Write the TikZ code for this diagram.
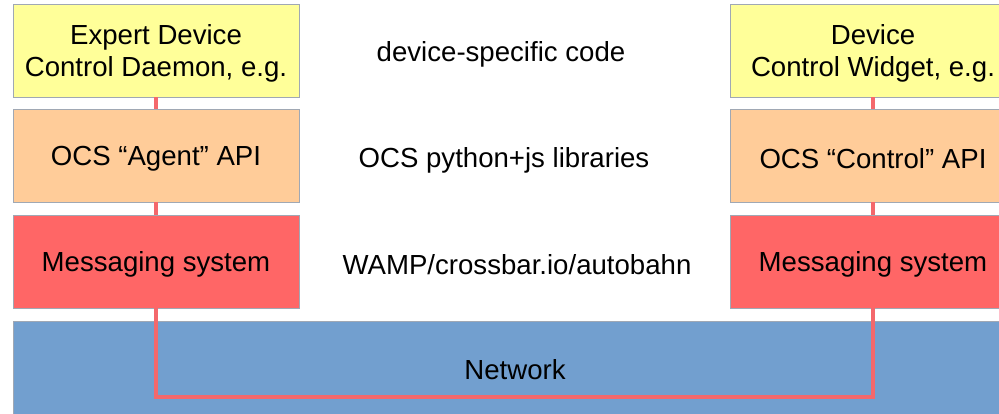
\documentclass[tikz,border=0pt]{standalone}
\usepackage{fontspec}
\setmainfont{Liberation Sans}
\definecolor{boxyellow}{HTML}{FFFF99}
\definecolor{boxorange}{HTML}{FFCC99}
\definecolor{boxred}{HTML}{FF6666}
\definecolor{netblue}{HTML}{729FCF}
\definecolor{edgegray}{HTML}{A0A8B4}
\definecolor{wire}{HTML}{F4686C}
\begin{document}
\begin{tikzpicture}[x=1pt,y=-1pt,
  layer/.style={draw=edgegray,line width=0.8pt,minimum width=286pt,minimum height=93pt,
    inner sep=0pt},
  ylayer/.style={layer,fill=boxyellow},
  olayer/.style={layer,fill=boxorange},
  rlayer/.style={layer,fill=boxred},
  midtext/.style={font=\fontsize{27.6}{32}\selectfont,inner sep=0pt,align=center},
  wireline/.style={draw=wire,line width=3.5pt}]
\useasboundingbox (0,0) rectangle (999,413);
\clip (0,0) rectangle (999,413);
% network
\node[draw=edgegray,line width=0.8pt,fill=netblue,minimum width=1020pt,minimum height=100pt,
  inner sep=0pt,anchor=north west] (net) at (13,321) {};
\node[midtext] (nettext) at (515,370) {Network};
% left stack
\node[ylayer] (ly) at (156,50.5) {};
\node[olayer] (lo) at (156,155.5) {};
\node[rlayer] (lr) at (156,261.5) {};
\node[midtext] (lyt) at ([yshift=-3pt]ly.center) {Expert Device\\Control Daemon, e.g.};
\node[midtext] (lot) at ([yshift=-3pt]lo.center) {OCS “Agent” API};
\node[midtext] (lrt) at ([yshift=-3pt]lr.center) {Messaging system};
% right stack
\node[ylayer] (ry) at (873,50.5) {};
\node[olayer] (ro) at (873,155.5) {};
\node[rlayer] (rr) at (873,261.5) {};
\node[midtext] (ryt) at ([yshift=-3pt]ry.center) {Device\\Control Widget, e.g.};
\node[midtext] (rot) at ([yshift=-3pt]ro.center) {OCS “Control” API};
\node[midtext] (rrt) at ([yshift=-3pt]rr.center) {Messaging system};
% middle labels
\node[midtext] (t1) at (501,54) {device-specific code};
\node[midtext] (t2) at (504,160) {OCS python+js libraries};
\node[midtext] (t3) at (517,265) {WAMP/crossbar.io/autobahn};
% wires
\coordinate (nl) at (156,397);
\draw[wireline] (ly.south) -- (lo.north);
\draw[wireline] (lo.south) -- (lr.north);
\draw[wireline] (ry.south) -- (ro.north);
\draw[wireline] (ro.south) -- (rr.north);
\draw[wireline,line join=miter] (lr.south) -- (nl) -| (rr.south);
\end{tikzpicture}
\end{document}
